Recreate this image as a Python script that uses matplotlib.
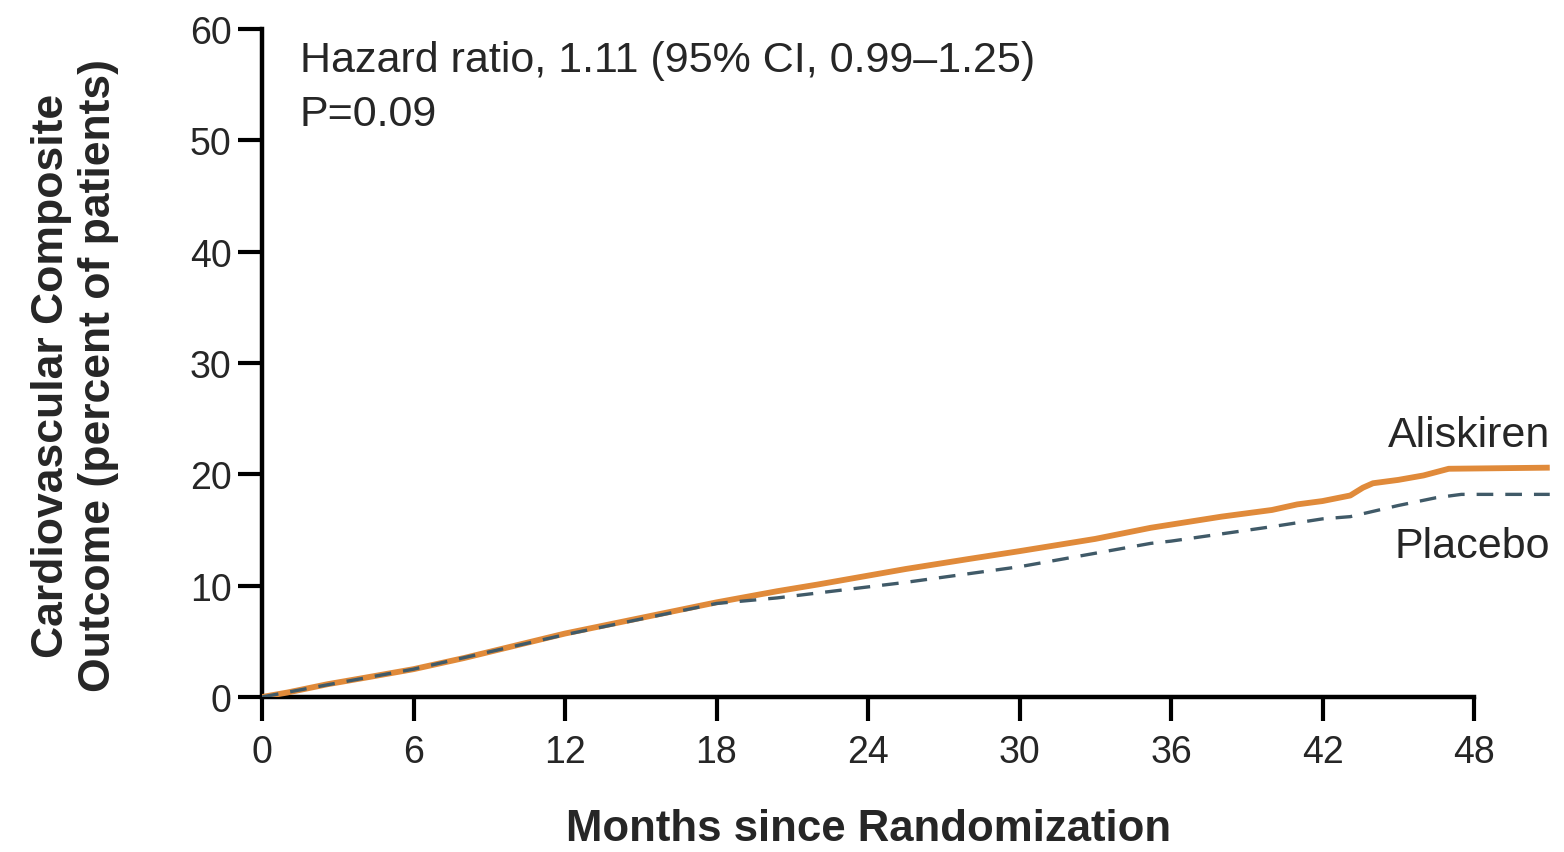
import matplotlib
matplotlib.use("Agg")
import matplotlib.pyplot as plt

months_aliskiren = [0, 1, 2.6, 4, 6, 8, 10, 12, 15, 18, 20.4, 22, 25.5, 28, 30, 33, 35.2,
                    38, 40, 41, 42, 43.1, 43.6, 44, 45, 46, 47, 51]
aliskiren = [0, 0.4, 1.15, 1.7, 2.5, 3.5, 4.6, 5.7, 7.1, 8.5, 9.5, 10.1, 11.5, 12.4, 13.1, 14.2, 15.2,
             16.2, 16.8, 17.3, 17.6, 18.1, 18.8, 19.2, 19.5, 19.9, 20.5, 20.6]
months_placebo = [0, 2.6, 6, 12, 18, 20.4, 25.5, 30, 35.2, 36, 40, 42, 43.1, 45, 46.5, 47.5, 51]
placebo = [0, 1.1, 2.5, 5.6, 8.4, 8.9, 10.3, 11.7, 13.8, 14.0, 15.3, 16.0, 16.2, 17.2, 17.9, 18.2, 18.2]

x_ticks = [0, 6, 12, 18, 24, 30, 36, 42, 48]
y_ticks = [0, 10, 20, 30, 40, 50, 60]
annotation = "Hazard ratio, 1.11 (95% CI, 0.99\u20131.25)\nP=0.09"
x_label = "Months since Randomization"
y_label = "Cardiovascular Composite\nOutcome (percent of patients)"

plt.rcParams['font.family'] = ['Liberation Sans', 'DejaVu Sans']
text_color = "#262626"

fig = plt.figure(figsize=(15.64, 8.53), dpi=100)
ax = fig.add_axes([262/1564, 155/853, 51*25.25/1564, 668/853])

ax.plot(months_aliskiren, aliskiren, color="#E08A3A", lw=4.2, solid_capstyle='butt', zorder=3)
ax.plot(months_placebo, placebo, color="#405a68", lw=2.4, ls=(0, (5, 3.6)), zorder=4)

ax.set_xlim(0, 51)
ax.set_ylim(0, 60)
ax.set_xticks(x_ticks)
ax.set_yticks(y_ticks)
for s in ["top", "right"]:
    ax.spines[s].set_visible(False)
ax.spines["bottom"].set_bounds(0, 48)
for s in ["left", "bottom"]:
    ax.spines[s].set_linewidth(3.2)
    ax.spines[s].set_color("black")
ax.tick_params(axis='both', direction='out', length=17, width=3, color="black",
               labelsize=27, labelcolor=text_color)
ax.tick_params(axis='x', pad=10)
ax.tick_params(axis='y', pad=5)

ax.text(1.5, 59.0, annotation, fontsize=31, color=text_color, va='top', ha='left', linespacing=1.45)
ax.text(51.0, 23.5, "Aliskiren", fontsize=31, color=text_color, va='center', ha='right')
ax.text(51.0, 13.6, "Placebo", fontsize=31, color=text_color, va='center', ha='right')

fig.text(869/1564, 1 - 830/853, x_label, fontsize=31.5, fontweight='bold', color=text_color,
         ha='center', va='center')
fig.text(75/1564, 1 - 376/853, y_label, fontsize=32, fontweight='bold', color=text_color,
         ha='center', va='center', rotation=90, linespacing=1.2, multialignment='center')

fig.savefig("out.png", dpi=100, facecolor="white")
